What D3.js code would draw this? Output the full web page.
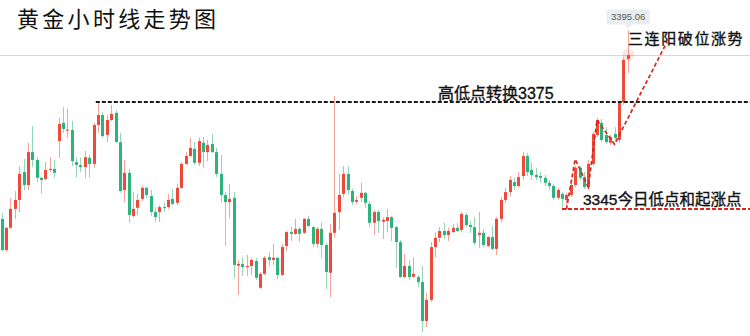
<!DOCTYPE html>
<html>
<head>
<meta charset="utf-8">
<script src="https://cdn.jsdelivr.net/npm/d3@7/dist/d3.min.js"></script>
<style>
  html, body { margin: 0; padding: 0; background: #fff; }
  svg { display: block; }
</style>
</head>
<body>
<svg id="chart"></svg>
<script>
// 黄金小时线 OHLC (one candle per hour)
var open = [3342.3,3333.6,3339.8,3345.1,3347.6,3355.4,3351.8,3361.0,3358.8,3353.8,
  3353.5,3356.0,3356.3,3364.1,3369.2,3367.1,3367.2,3358.2,3357.4,3356.8,
  3359.4,3357.7,3368.6,3371.4,3365.8,3370.0,3372.0,3363.8,3350.4,3355.2,
  3343.1,3345.4,3347.9,3351.0,3348.7,3344.2,3344.2,3345.6,3345.6,3347.9,
  3346.8,3351.0,3357.7,3359.9,3361.9,3358.0,3363.6,3361.0,3363.3,3361.0,
  3354.9,3349.0,3347.0,3348.2,3329.2,3329.7,3328.8,3329.1,3330.5,3323.0,
  3326.9,3331.6,3330.8,3331.4,3326.6,3334.7,3338.6,3338.1,3339.5,3338.4,
  3342.3,3340.0,3335.3,3339.5,3335.0,3327.2,3338.4,3344.2,3349.3,3354.9,
  3350.1,3347.1,3348.2,3349.6,3346.5,3341.2,3344.2,3341.5,3341.7,3342.8,
  3340.0,3335.8,3326.0,3329.1,3326.1,3326.0,3324.6,3313.7,3319.6,3334.4,
  3337.0,3338.9,3337.8,3338.6,3339.8,3339.2,3343.4,3340.6,3340.0,3337.8,
  3338.4,3334.7,3337.2,3333.9,3342.3,3347.6,3349.8,3352.6,3351.5,3354.3,
  3359.9,3356.0,3354.6,3354.3,3353.8,3352.4,3351.5,3348.2,3349.3,3347.6,
  3349.0,3351.8,3356.6,3354.0,3351.2,3357.7,3365.8,3369.2,3365.8,3363.6,
  3366.1,3364.4,3375.0,3387.1];

var high = [3344.0,3340.0,3348.2,3350.1,3357.1,3359.1,3363.6,3368.3,3359.6,3354.0,
  3358.2,3359.6,3358.8,3370.6,3373.6,3373.1,3369.7,3359.4,3359.4,3361.3,
  3360.2,3369.2,3374.8,3372.2,3371.4,3374.2,3372.8,3366.4,3358.8,3356.3,
  3349.8,3349.3,3351.5,3351.2,3350.4,3345.6,3346.2,3346.8,3349.3,3350.7,
  3352.1,3358.2,3361.0,3365.0,3363.8,3365.0,3365.2,3364.4,3366.1,3362.2,
  3360.2,3349.8,3352.1,3349.8,3330.8,3331.6,3332.2,3331.4,3331.4,3327.4,
  3331.9,3333.0,3335.3,3331.6,3335.3,3338.9,3340.0,3342.3,3340.0,3342.6,
  3343.1,3340.3,3340.0,3341.4,3335.6,3340.9,3376.7,3354.9,3357.1,3357.1,
  3350.7,3348.7,3352.4,3349.8,3347.3,3344.8,3344.8,3342.8,3345.1,3343.1,
  3340.3,3336.4,3332.5,3330.8,3331.6,3326.6,3329.1,3321.6,3335.8,3338.6,
  3340.0,3341.2,3339.8,3340.9,3341.2,3344.2,3344.0,3341.7,3342.8,3344.2,
  3339.5,3337.5,3340.3,3342.8,3348.4,3351.0,3354.3,3353.8,3355.4,3361.0,
  3360.8,3358.0,3356.6,3355.4,3354.6,3353.2,3352.1,3351.0,3349.8,3349.6,
  3352.4,3357.1,3357.1,3355.4,3358.8,3366.6,3370.6,3370.3,3368.0,3365.8,
  3368.0,3375.3,3387.6,3395.06];

var low = [3333.3,3333.0,3339.5,3342.3,3344.2,3350.4,3350.4,3356.8,3352.6,3349.3,
  3353.2,3355.4,3353.8,3359.4,3366.4,3365.0,3357.1,3354.0,3355.4,3353.8,
  3353.8,3356.6,3366.4,3365.0,3363.8,3369.7,3363.6,3349.6,3347.0,3341.2,
  3342.6,3343.4,3347.3,3348.2,3343.1,3341.4,3341.4,3344.2,3345.1,3346.2,
  3346.2,3350.7,3357.4,3359.6,3357.4,3357.1,3356.6,3358.5,3360.8,3354.0,
  3346.8,3334.7,3342.6,3325.8,3321.0,3326.3,3326.3,3326.6,3325.2,3322.7,
  3326.6,3329.1,3329.4,3325.5,3326.3,3333.3,3336.1,3337.8,3335.8,3338.1,
  3340.0,3334.4,3334.2,3331.4,3322.7,3320.4,3337.0,3339.2,3348.4,3349.0,
  3346.2,3346.5,3347.0,3345.4,3340.0,3337.8,3338.4,3336.7,3338.6,3336.1,
  3328.6,3325.8,3325.8,3325.2,3325.8,3323.2,3310.6,3312.0,3319.0,3331.6,
  3335.8,3336.7,3336.1,3338.4,3338.6,3338.6,3340.0,3338.4,3335.0,3334.2,
  3334.4,3334.4,3333.6,3332.2,3341.4,3346.8,3348.7,3350.4,3351.0,3353.2,
  3354.3,3353.2,3353.2,3352.4,3351.5,3350.4,3347.6,3347.6,3345.4,3346.2,
  3348.4,3351.2,3353.2,3350.7,3350.7,3357.1,3365.2,3363.8,3363.3,3363.0,
  3364.4,3363.6,3374.2,3383.2];

var close = [3333.6,3339.8,3345.1,3347.6,3354.9,3351.8,3361.0,3358.8,3353.8,3353.2,
  3356.0,3356.3,3355.2,3368.9,3367.5,3367.3,3358.5,3357.4,3356.8,3359.6,
  3357.7,3368.6,3371.4,3365.5,3370.0,3371.7,3363.8,3350.1,3355.2,3343.4,
  3345.1,3347.6,3351.0,3349.0,3344.2,3342.8,3345.6,3345.4,3347.6,3346.5,
  3351.0,3357.7,3359.9,3362.2,3358.0,3364.1,3361.0,3363.0,3361.0,3354.9,
  3349.0,3347.0,3347.9,3329.4,3329.7,3328.8,3329.1,3330.8,3325.8,3326.9,
  3331.4,3330.8,3331.4,3326.6,3334.4,3338.6,3338.1,3339.5,3338.1,3342.3,
  3340.3,3335.3,3339.5,3335.0,3327.4,3338.4,3344.0,3349.0,3354.9,3350.4,
  3347.0,3347.6,3349.6,3346.8,3341.2,3344.2,3341.7,3342.0,3342.8,3339.8,
  3335.8,3326.0,3329.1,3326.0,3326.9,3324.6,3313.7,3319.6,3334.4,3337.0,
  3338.9,3337.8,3338.9,3339.8,3338.9,3343.7,3340.6,3340.0,3335.6,3338.4,
  3335.0,3337.2,3333.9,3342.3,3347.6,3349.8,3353.2,3351.5,3354.0,3359.9,
  3355.4,3354.6,3354.0,3353.8,3352.4,3351.5,3348.2,3350.4,3347.9,3349.0,
  3351.8,3356.6,3353.8,3351.2,3357.7,3366.1,3370.0,3364.4,3363.8,3365.2,
  3365.0,3375.0,3386.8,3388.2];

// annotations
var title = "黄金小时线走势图";
var levels = [3375, 3345];
var levelStart = [21.5, 128];            // candle index where each level line starts
var levelLabels = ["高低点转换3375", "3345今日低点和起涨点"];
var zigIndex = [129, 131, 134, 136, 140, 152];
var zigPrice = [3345, 3359.0, 3351.2, 3370.0, 3363.2, 3391.9];
var trendLabel = "三连阳破位涨势";

var width = 750, height = 336;
var upColor = "#ee4a3b", downColor = "#2bb47b";
var upWick = "#f4a39b", downWick = "#94d7b8";

var candles = open.map(function(o, i) {
  return {i: i, o: o, h: high[i], l: low[i], c: close[i]};
});

var svg = d3.select("#chart")
  .attr("width", width)
  .attr("height", height);

var xScale = d3.scaleLinear()
  .domain([0, candles.length - 1])
  .range([1.7, 627.7]);
var yScale = d3.scaleLinear()
  .domain([3309.5, 3403.6])
  .range([height, 0]);

var last = candles[candles.length - 1];

// current price line
svg.append("line")
  .attr("x1", 0).attr("x2", width)
  .attr("y1", Math.round(yScale(last.c)) + 0.5).attr("y2", Math.round(yScale(last.c)) + 0.5)
  .attr("stroke", "#f8c9c5")
  .attr("stroke-width", 1);

// wicks
svg.append("g").selectAll("line")
  .data(candles)
  .join("line")
  .attr("x1", function(d) { return Math.round(xScale(d.i)) + 0.5; })
  .attr("x2", function(d) { return Math.round(xScale(d.i)) + 0.5; })
  .attr("y1", function(d) { return yScale(d.h); })
  .attr("y2", function(d) { return yScale(d.l); })
  .attr("stroke", function(d) { return d.c >= d.o ? upWick : downWick; })
  .attr("stroke-width", 1);

// bodies
svg.append("g").selectAll("rect")
  .data(candles)
  .join("rect")
  .attr("x", function(d) { return Math.round(xScale(d.i)) - 1; })
  .attr("width", 3)
  .attr("y", function(d) { return yScale(Math.max(d.o, d.c)); })
  .attr("height", function(d) { return Math.max(1, Math.abs(yScale(d.o) - yScale(d.c))); })
  .attr("fill", function(d) { return d.c >= d.o ? upColor : downColor; });

// glow on the last candle
svg.append("circle")
  .attr("cx", xScale(last.i) + 0.5)
  .attr("cy", yScale(last.c))
  .attr("r", 6)
  .attr("fill", upColor)
  .attr("opacity", 0.15);

// level lines
var levelColors = ["#1a1a1a", "#d9261c"];
levels.forEach(function(v, k) {
  var y = Math.round(yScale(v));
  svg.append("line")
    .attr("x1", xScale(levelStart[k])).attr("x2", width)
    .attr("y1", y).attr("y2", y)
    .attr("stroke", levelColors[k])
    .attr("stroke-width", 2)
    .attr("stroke-dasharray", "4,2");
});

// zigzag trend
var zigLine = d3.line()
  .x(function(d) { return xScale(d[0]); })
  .y(function(d) { return yScale(d[1]); });
svg.append("path")
  .attr("d", zigLine(zigIndex.map(function(v, i) { return [v, zigPrice[i]]; })))
  .attr("fill", "none")
  .attr("stroke", "#d9261c")
  .attr("stroke-width", 1.7)
  .attr("stroke-dasharray", "4,2.5");

// texts
var cjk = "'Liberation Sans', 'Noto Sans CJK SC', sans-serif";
svg.append("text")
  .attr("x", 17).attr("y", 27)
  .attr("font-family", "'Noto Sans CJK SC', sans-serif")
  .attr("font-size", 22)
  .attr("letter-spacing", 3.3)
  .attr("fill", "#111")
  .text(title);

function label(x, y, size, txt, spacing) {
  svg.append("text")
    .attr("x", x).attr("y", y)
    .attr("font-family", cjk)
    .attr("font-size", size)
    .attr("letter-spacing", spacing || 0)
    .attr("fill", "#111")
    .attr("stroke", "#111")
    .attr("stroke-width", 0.35)
    .text(txt);
}
label(438, yScale(levels[0]) - 3, 16, levelLabels[0]);
label(583, yScale(levels[1]) - 4, 15.5, levelLabels[1]);
label(628, 44, 15, trendLabel, 1.6);

// high price tag
var tx = xScale(last.i) + 0.5, ty = yScale(last.h);
var tag = svg.append("g");
tag.append("rect")
  .attr("x", tx - 21.5).attr("y", ty - 21)
  .attr("width", 43).attr("height", 15)
  .attr("rx", 2)
  .attr("fill", "#e9edf0");
tag.append("path")
  .attr("d", "M" + (tx - 4) + "," + (ty - 6) + "L" + tx + "," + (ty - 2) + "L" + (tx + 4) + "," + (ty - 6) + "Z")
  .attr("fill", "#e9edf0");
tag.append("text")
  .attr("x", tx).attr("y", ty - 10)
  .attr("text-anchor", "middle")
  .attr("font-family", "'Liberation Sans', Arial, sans-serif")
  .attr("font-size", 9.5)
  .attr("fill", "#555")
  .text(d3.format(".2f")(last.h));
</script>
</body>
</html>
